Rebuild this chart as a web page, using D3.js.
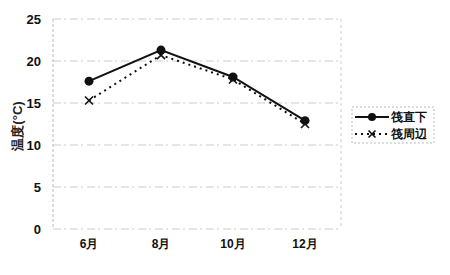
<!DOCTYPE html>
<html>
<head>
<meta charset="utf-8">
<script src="https://cdn.jsdelivr.net/npm/d3@7"></script>
<style>
  body { margin: 0; background: #fff; }
  text { font-family: "Liberation Sans", Arial, sans-serif; }
</style>
</head>
<body>
<svg id="chart" width="450" height="275"></svg>
<script>
const months = ['6月', '8月', '10月', '12月'];
const underRaft = [17.6, 21.3, 18.1, 12.9];
const aroundRaft = [15.3, 20.7, 17.8, 12.5];
const yTicks = [0, 5, 10, 15, 20, 25];

const width = 450;
const height = 275;
const margin = { top: 19, right: 109, bottom: 46, left: 53 };

const svg = d3.select('#chart');

const xScale = d3.scaleBand()
  .domain(months)
  .range([margin.left, width - margin.right]);

const yScale = d3.scaleLinear()
  .domain([0, 25])
  .range([height - margin.bottom, margin.top]);

const xPos = (m) => xScale(m) + xScale.bandwidth() / 2;

// gridlines
svg.append('g')
  .selectAll('line')
  .data(yTicks)
  .join('line')
  .attr('x1', margin.left)
  .attr('x2', width - margin.right)
  .attr('y1', (d) => yScale(d))
  .attr('y2', (d) => yScale(d))
  .attr('stroke', '#ccc')
  .attr('stroke-width', 1)
  .attr('stroke-dasharray', '8,3,2,4');

// plot frame sides
svg.append('line')
  .attr('x1', margin.left).attr('x2', margin.left)
  .attr('y1', margin.top).attr('y2', height - margin.bottom)
  .attr('stroke', '#bbb')
  .attr('stroke-dasharray', '3,2');
svg.append('line')
  .attr('x1', width - margin.right).attr('x2', width - margin.right)
  .attr('y1', margin.top).attr('y2', height - margin.bottom)
  .attr('stroke', '#ccc')
  .attr('stroke-dasharray', '3,3');

// y axis
const yAxis = svg.append('g')
  .attr('transform', `translate(${margin.left},0)`)
  .call(d3.axisLeft(yScale).tickValues(yTicks).tickSize(0).tickPadding(12));
yAxis.select('.domain').remove();
yAxis.selectAll('text')
  .attr('font-size', 13)
  .attr('font-weight', 'bold')
  .attr('fill', '#111');

// x axis
const xAxis = svg.append('g')
  .attr('transform', `translate(0,${height - margin.bottom})`)
  .call(d3.axisBottom(xScale).tickSize(0).tickPadding(10));
xAxis.select('.domain').remove();
xAxis.selectAll('text')
  .attr('font-size', 12)
  .attr('font-weight', 'bold')
  .attr('fill', '#111');

// y label
svg.append('text')
  .attr('transform', `translate(22,126) rotate(-90)`)
  .attr('text-anchor', 'middle')
  .attr('font-size', 13)
  .attr('font-weight', 'bold')
  .attr('fill', '#222')
  .text('温度(°C)');

const lineGen = d3.line()
  .x((d, i) => xPos(months[i]))
  .y((d) => yScale(d));

// around raft: dotted with x markers
svg.append('path')
  .attr('d', lineGen(aroundRaft))
  .attr('fill', 'none')
  .attr('stroke', '#111')
  .attr('stroke-width', 2)
  .attr('stroke-dasharray', '2,4');

const cross = (g, x, y, s) => {
  g.append('path')
    .attr('d', `M${x - s},${y - s}L${x + s},${y + s}M${x - s},${y + s}L${x + s},${y - s}`)
    .attr('stroke', '#111')
    .attr('stroke-width', 1.6);
};
const crossG = svg.append('g');
aroundRaft.forEach((d, i) => cross(crossG, xPos(months[i]), yScale(d), 4));

// under raft: solid with filled circles
svg.append('path')
  .attr('d', lineGen(underRaft))
  .attr('fill', 'none')
  .attr('stroke', '#111')
  .attr('stroke-width', 2);

svg.append('g')
  .selectAll('circle')
  .data(underRaft)
  .join('circle')
  .attr('cx', (d, i) => xPos(months[i]))
  .attr('cy', (d) => yScale(d))
  .attr('r', 4.5)
  .attr('fill', '#111');

// legend
const legend = svg.append('g').attr('transform', 'translate(352,107)');
legend.append('rect')
  .attr('width', 82)
  .attr('height', 36)
  .attr('fill', '#fff')
  .attr('stroke', '#bbb')
  .attr('stroke-dasharray', '2,2');

legend.append('line')
  .attr('x1', 3).attr('x2', 37)
  .attr('y1', 10).attr('y2', 10)
  .attr('stroke', '#111').attr('stroke-width', 2);
legend.append('circle')
  .attr('cx', 20).attr('cy', 10).attr('r', 4).attr('fill', '#111');
legend.append('text')
  .attr('x', 39).attr('y', 14)
  .attr('font-size', 12).attr('font-weight', 'bold').attr('fill', '#111')
  .text('筏直下');

legend.append('line')
  .attr('x1', 3).attr('x2', 37)
  .attr('y1', 27).attr('y2', 27)
  .attr('stroke', '#111').attr('stroke-width', 2)
  .attr('stroke-dasharray', '2,4');
cross(legend, 20, 27, 3.5);
legend.append('text')
  .attr('x', 39).attr('y', 31)
  .attr('font-size', 12).attr('font-weight', 'bold').attr('fill', '#111')
  .text('筏周辺');
</script>
</body>
</html>
